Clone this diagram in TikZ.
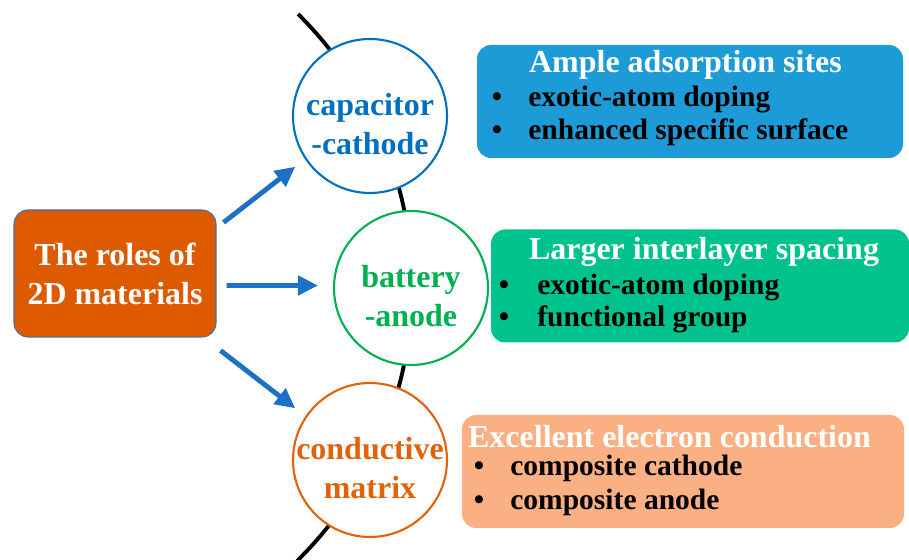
\documentclass[tikz,border=0pt]{standalone}
\usepackage{fontspec}
\setmainfont{Liberation Serif}
\usetikzlibrary{arrows.meta,positioning}
\definecolor{rolefill}{RGB}{222,90,0}
\definecolor{roleedge}{RGB}{70,110,160}
\definecolor{capblue}{RGB}{0,112,192}
\definecolor{batgreen}{RGB}{0,176,80}
\definecolor{condorange}{RGB}{226,98,12}
\definecolor{arrowblue}{RGB}{28,112,200}
\definecolor{boxblue}{RGB}{28,155,215}
\definecolor{boxgreen}{RGB}{0,194,140}
\definecolor{boxorange}{RGB}{251,176,132}

\begin{document}
\begin{tikzpicture}[
  font=\bfseries\fontsize{18.2}{22.2}\selectfont,
  rl/.style={circle, line width=1.2pt, fill=white, minimum size=3.08cm,
    inner sep=0pt},
  rt/.style={align=center, inner sep=0pt},
  bx/.style={rounded corners=8pt, minimum height=2.26cm},
  hd/.style={anchor=base, text=white, inner sep=0pt},
  dt/.style={anchor=base, inner sep=0pt,
    font=\bfseries\fontsize{16.8}{18.7}\selectfont},
  it/.style={anchor=base west, inner sep=0pt,
    font=\bfseries\fontsize{16.8}{18.7}\selectfont},
  arr/.style={-{Triangle[length=4mm,width=3.8mm]}, line width=2.8pt,
    arrowblue},
  spine/.style={line width=2.2pt, black},
]
\useasboundingbox (0,0) rectangle (18.18,11.2);
% the curved spine behind the three roles
\draw[spine] (0.56,5.46) ++(-45.5:7.68)
  arc[start angle=-45.5, end angle=45.3, radius=7.68];
\node[draw=roleedge, line width=0.6pt, fill=rolefill, rounded corners=8pt,
  minimum width=4.04cm, minimum height=2.54cm, text=white, align=center]
  (roles) at (2.30,5.73) {The roles of\\2D materials};
\node[rl, draw=capblue] (cap) at (7.40,8.88) {};
\node[rl, draw=batgreen] (bat) at (8.22,5.44) {};
\node[rl, draw=condorange] (cond) at (7.40,2.00) {};
\node[rt, text=capblue] (capT) at ([yshift=-0.16cm]cap.center)
  {capacitor\\-cathode};
\node[rt, text=batgreen] (batT) at ([yshift=-0.16cm]bat.center)
  {battery\\-anode};
\node[rt, text=condorange] (condT) at ([yshift=-0.16cm]cond.center)
  {conductive\\matrix};
\draw[arr] ([xshift=0.14cm,yshift=-0.26cm]roles.north east)
  -- ([xshift=-0.39cm,yshift=0.09cm]cap.225);
\draw[arr] ([xshift=0.2cm,yshift=-0.24cm]roles.east)
  -- ([xshift=-0.3cm,yshift=0.05cm]bat.west);
\draw[arr] ([xshift=0.08cm,yshift=-0.26cm]roles.south east)
  -- ([xshift=-0.39cm,yshift=-0.07cm]cond.135);
% property boxes
\node[bx, fill=boxblue, minimum width=8.52cm] (ads) at (13.80,9.17) {};
\node[bx, fill=boxgreen, minimum width=8.36cm] (lay) at (14.00,5.48) {};
\node[bx, fill=boxorange, minimum width=8.84cm] (con) at (13.66,1.77) {};
\node[hd] (adsH) at (13.71,9.74) {Ample adsorption sites};
\node[hd] (layH) at (14.08,6.00) {Larger interlayer spacing};
\node[hd] (conH) at (13.39,2.24) {Excellent electron conduction};
\foreach \n/\bx/\tx/\by/\t in {
    a/9.94/10.56/9.06/exotic-atom doping,
    b/9.94/10.56/8.40/enhanced specific surface,
    c/10.08/10.74/5.30/exotic-atom doping,
    d/10.08/10.74/4.66/functional group,
    e/9.58/10.20/1.68/composite cathode,
    f/9.58/10.20/1.00/composite anode} {
  \node[dt] (dot\n) at (\bx,\by) {\textbullet};
  \node[it] (item\n) at (\tx,\by) {\t};
}
\end{tikzpicture}
\end{document}
